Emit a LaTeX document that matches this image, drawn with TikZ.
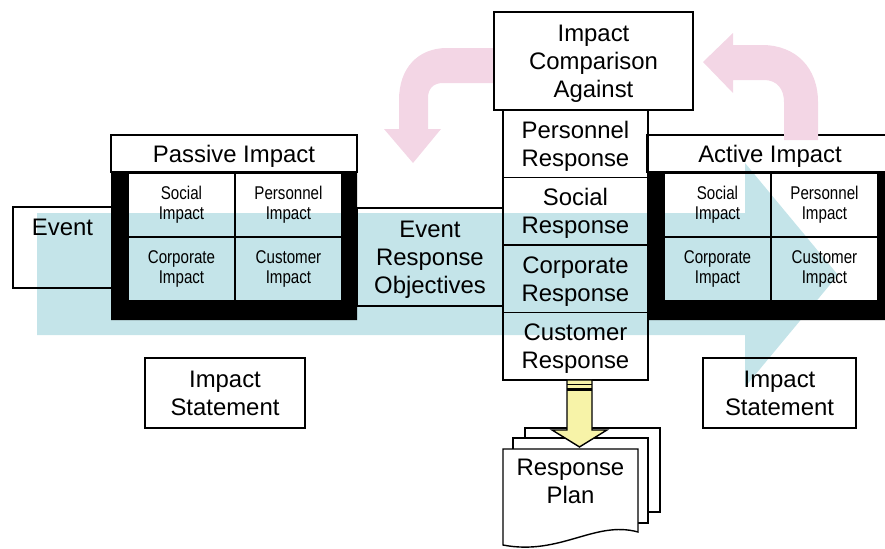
\documentclass[tikz,border=0pt]{standalone}
\usepackage{fontspec}
\setmainfont{Liberation Sans}
\newfontfamily\narrowfont[FakeStretch=0.82]{Liberation Sans}
\usetikzlibrary{positioning,calc}

\definecolor{flowcyan}{RGB}{196,228,233}
\definecolor{looppink}{RGB}{243,214,229}
\definecolor{planyellow}{RGB}{247,243,168}

\newcommand{\bigtxt}{\fontsize{13.6}{15.9}\selectfont}
\newcommand{\celltxt}{\narrowfont\fontsize{10.5}{11.3}\selectfont}

\tikzstyle{box}=[draw,line width=0.8pt,rectangle,align=center,inner sep=0pt,outer sep=0pt,text depth=0pt,font=\bigtxt]
\tikzstyle{resp}=[box,minimum width=2.9cm,minimum height=1.35cm]
\tikzstyle{cell}=[draw,line width=0.6pt,rectangle,align=center,inner sep=0pt,outer sep=0pt,minimum width=2.14cm,minimum height=1.28cm,font=\celltxt]
\tikzstyle{page}=[draw,line width=0.8pt,fill=white]

\begin{document}
\begin{tikzpicture}[x=0.02cm,y=-0.02cm]
\useasboundingbox (0,0) rectangle (885,548);
\clip (0,0) rectangle (885,548);

% flow arrow behind everything
\fill[flowcyan] (37,213) -- (745,213) -- (745,163) -- (838,275) -- (745,387) -- (745,335) -- (37,335) -- cycle;

% loop arrow, left
\fill[looppink] (494,48) -- (447,48) .. controls (418,48) and (399,68) .. (399,100) -- (399,129) -- (384,129) -- (413,163) -- (441,129) -- (428,129) -- (428,98) .. controls (428,89) and (433,83) .. (443,83) -- (494,83) -- cycle;

\node[box,minimum width=1.98cm,minimum height=1.62cm] (event) at (62.5,247.5) {};
\node[font=\bigtxt,inner sep=0pt,below=0.24cm of event.north] (eventtxt) {Event};

\node[box,minimum width=2.92cm,minimum height=1.96cm] (ero) at (430,257) {Event\\Response\\Objectives};

% impact grids
\foreach \gx/\gn/\gt in {111/pas/Passive,647/act/Active}{
	\fill[even odd rule] (\gx,172) rectangle ++(246,148) ({\gx+17},173) rectangle ++(213,128);
	\node[box,minimum width=4.92cm,minimum height=0.74cm,anchor=north west] (\gn-hd) at (\gx,135) {\gt\ Impact};
	\node[cell,anchor=north west] (\gn-soc) at ({\gx+17},173) {Social\\Impact};
	\node[cell,right=0pt of \gn-soc] (\gn-per) {Personnel\\Impact};
	\node[cell,below=0pt of \gn-soc] (\gn-cor) {Corporate\\Impact};
	\node[cell,right=0pt of \gn-cor] (\gn-cus) {Customer\\Impact};
}

\node[box,minimum width=3.98cm,minimum height=1.96cm] (cmp) at (593.5,61) {Impact\\Comparison\\Against};
\node[resp,anchor=north] (prs) at (575.5,110) {Personnel\\Response};
\node[resp,below=0pt of prs] (srs) {Social\\Response};
\node[resp,below=0pt of srs] (crs) {Corporate\\Response};
\node[resp,below=0pt of crs] (cus) {Customer\\Response};

\node[box,minimum width=3.2cm,minimum height=1.4cm] (stl) at (225,393) {Impact\\Statement};
\node[box,minimum width=3.06cm,minimum height=1.4cm] (str) at (779.5,393) {Impact\\Statement};

% plan pages
\draw[page] (525,428) rectangle (660,512);
\draw[page] (513,438) rectangle (648,523);
\draw[page] (503,449) -- (638,449) -- (638,532) .. controls (595,520) and (560,556) .. (503,545) -- cycle;
\node[font=\bigtxt,align=center,inner sep=0pt] (plan) at (570.5,481.5) {Response\\Plan};

\draw[line width=0.8pt,fill=planyellow] (cus.south) ++(-8.5,0) -- ++(0,50) -- ++(-15,0) -- ++(27.5,17) -- ++(27.5,-17) -- ++(-15,0) -- ++(0,-50) -- cycle;
\draw[line width=0.6pt] ($(cus.south)+(-8.5,5)$) -- ++(25,0);
\draw[line width=1.6pt] ($(cus.south)+(-8.5,9.5)$) -- ++(25,0);

% loop arrow, right
\fill[looppink] (733,45) -- (762,45) .. controls (796,45) and (818,68) .. (818,102) -- (818,140) -- (784,140) -- (784,102) .. controls (784,89) and (777,80) .. (764,80) -- (733,80) -- (733,93) -- (703,62) -- (733,33) -- cycle;
\end{tikzpicture}
\end{document}
